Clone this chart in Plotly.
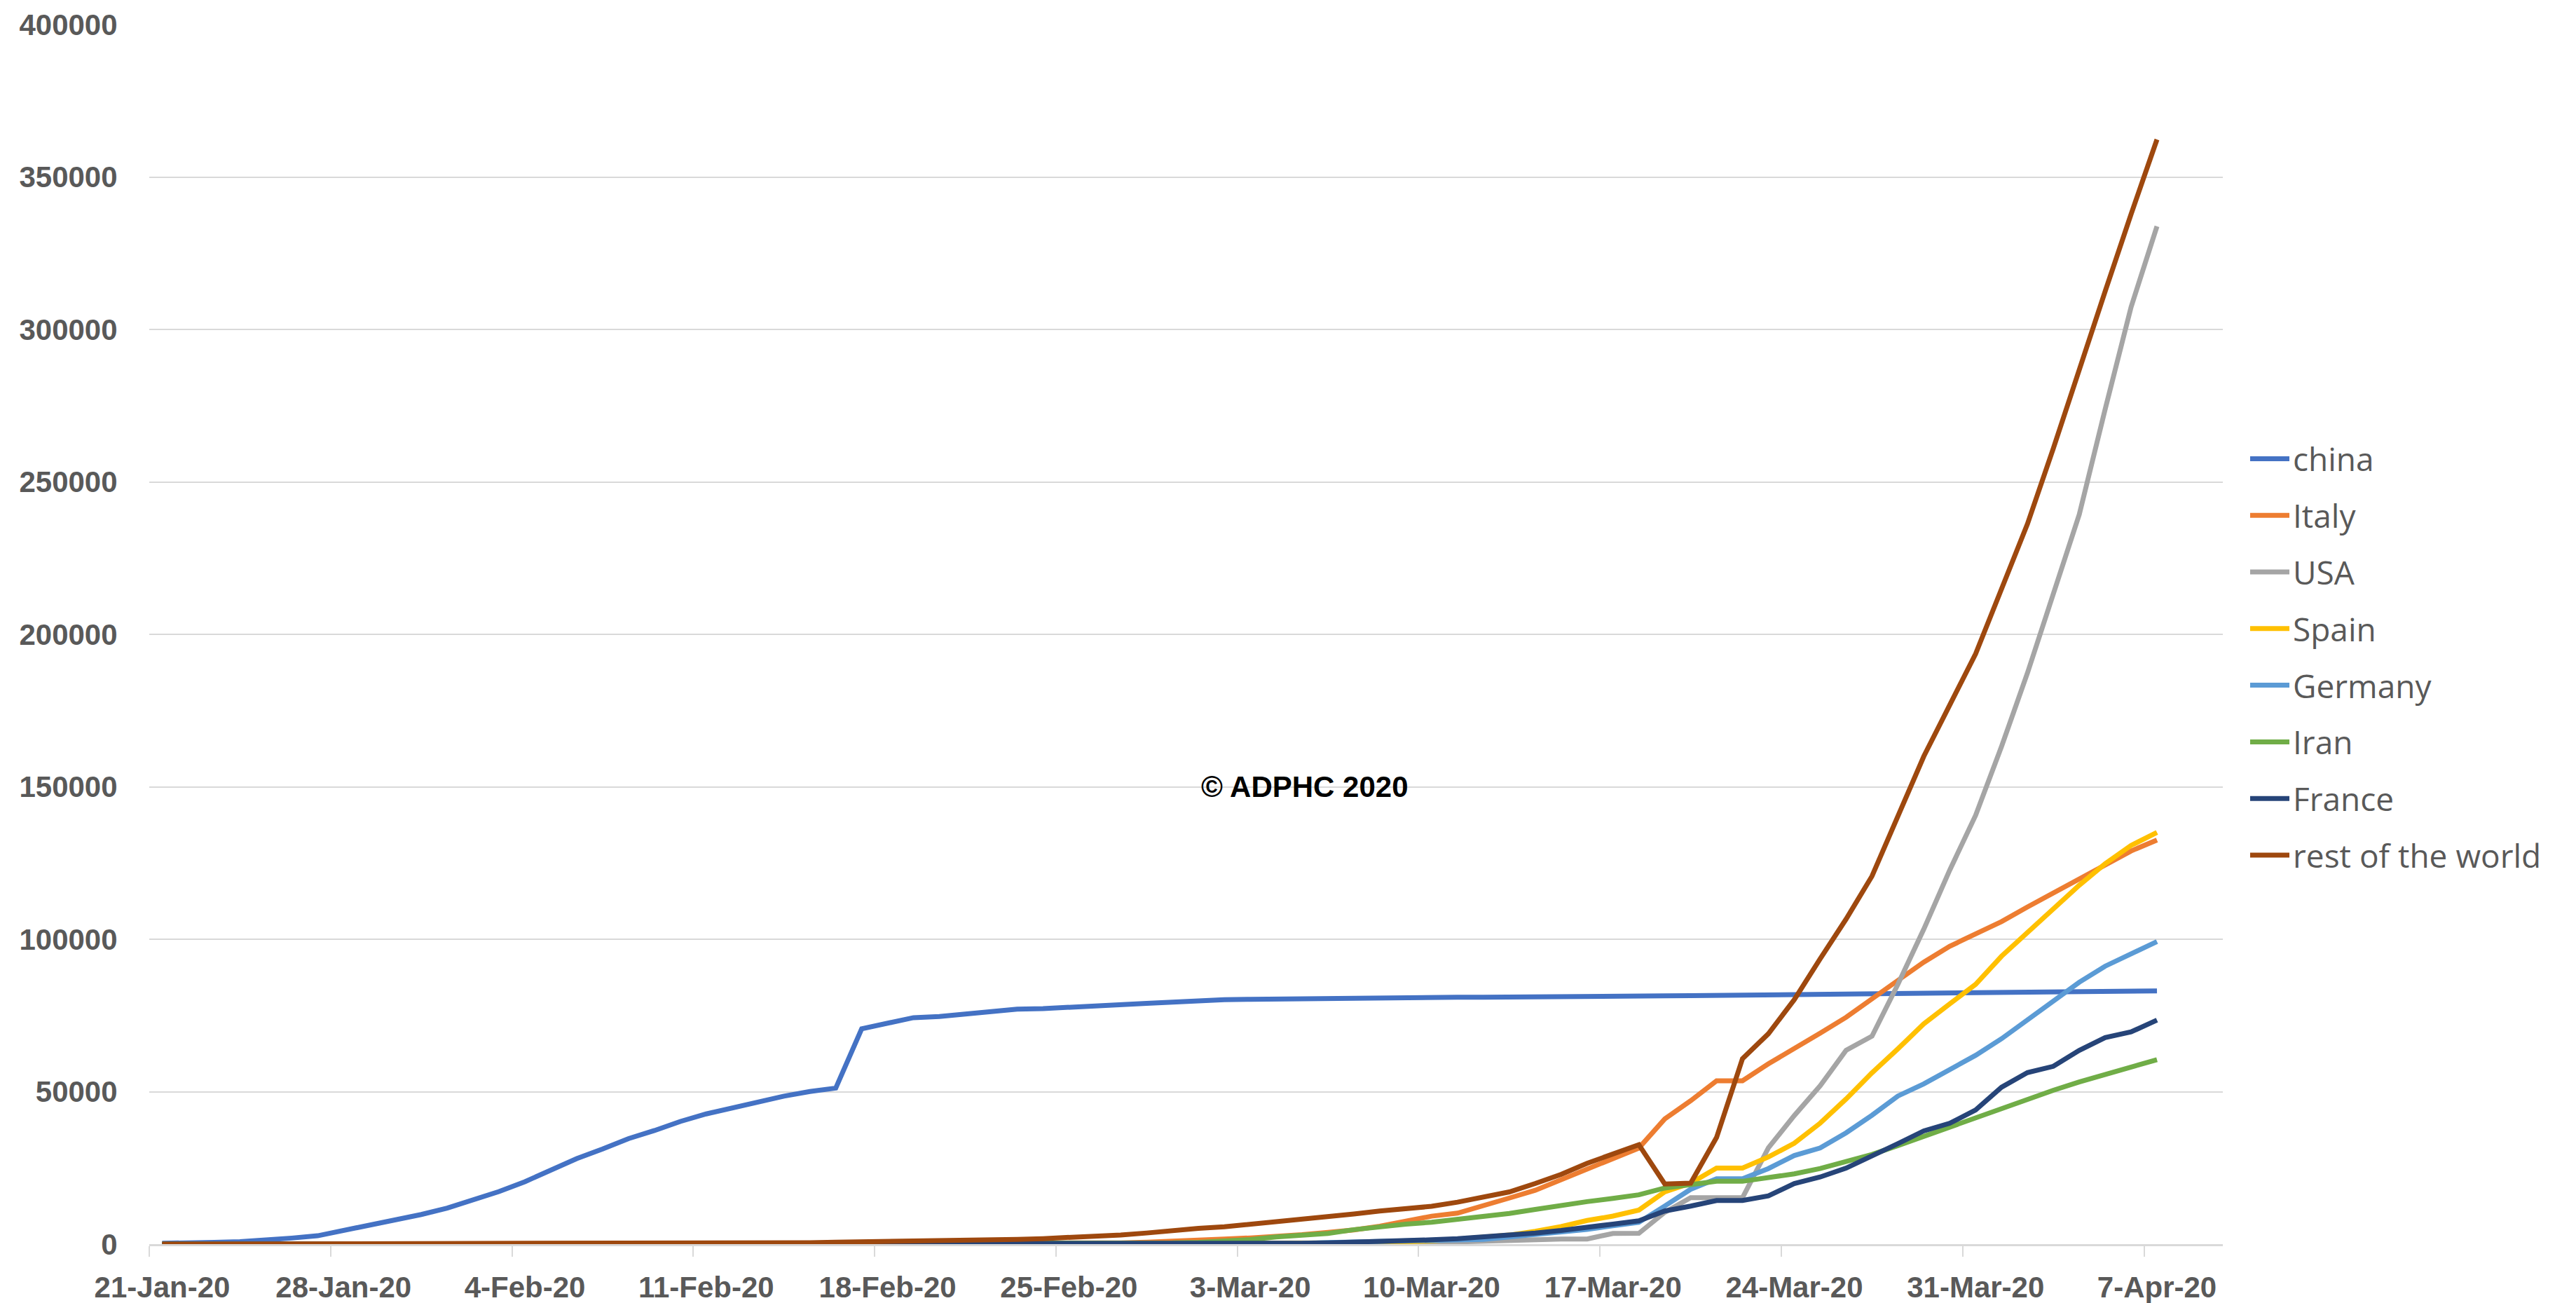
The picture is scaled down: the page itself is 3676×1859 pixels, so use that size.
import pandas as pd
import plotly.graph_objects as go

# ---- categories (daily dates) ----
dates = pd.date_range("2020-01-21", "2020-04-07", freq="D")

# ---- series values (cumulative confirmed cases) ----
china = [278, 309, 571, 830, 1297, 1985, 2741, 4537, 5997, 7736,
         9720, 11821, 14411, 17238, 20471, 24363, 28060, 31211, 34598, 37251,
         40235, 42708, 44730, 46550, 48548, 50054, 51174, 70635, 72528, 74280,
         74675, 75569, 76392, 77042, 77262, 77780, 78191, 78630, 78961, 79394,
         79968, 80174, 80304, 80422, 80565, 80711, 80813, 80859, 80904, 80924,
         80955, 80981, 80991, 81021, 81048, 81077, 81116, 81174, 81416, 81498,
         81603, 81603, 81601, 81747, 81848, 81961, 82078, 82230, 82341, 82447,
         82545, 82631, 82724, 82802, 82875, 82930, 83005, 83071]

italy = [0, 0, 0, 0, 0, 0, 0, 0, 0, 0,
         2, 2, 2, 2, 2, 2, 2, 3, 3, 3,
         3, 3, 3, 3, 3, 3, 3, 3, 3, 3,
         3, 3, 9, 76, 124, 229, 322, 400, 650, 888,
         1128, 1689, 2036, 2502, 3089, 3858, 4636, 5883, 7375, 9172,
         10149, 12462, 15113, 17660, 21157, 24747, 27980, 31506, 41035, 47021,
         53578, 53578, 59138, 63927, 69176, 74386, 80589, 86498, 92472, 97689,
         101739, 105792, 110574, 115242, 119827, 124632, 128948, 132547]

usa = [0, 0, 1, 1, 2, 2, 5, 5, 5, 5,
       6, 7, 8, 11, 11, 11, 12, 12, 12, 12,
       12, 12, 12, 15, 15, 15, 15, 15, 15, 15,
       15, 35, 35, 35, 35, 53, 59, 59, 60, 62,
       62, 62, 64, 108, 129, 148, 213, 213, 213, 472,
       696, 987, 1264, 1678, 1678, 1678, 3503, 3536, 10442, 15219,
       15219, 15219, 31573, 42164, 51914, 63570, 68211, 85228, 103321, 122653,
       140640, 163199, 187302, 213144, 239279, 273808, 307318, 333811]

spain = [0, 0, 0, 0, 0, 0, 0, 0, 0, 0,
         0, 1, 1, 1, 1, 1, 1, 1, 1, 1,
         2, 2, 2, 2, 2, 2, 2, 2, 2, 2,
         2, 2, 2, 2, 2, 2, 2, 12, 23, 32,
         45, 114, 114, 151, 198, 257, 374, 430, 589, 1024,
         1639, 2140, 2965, 4231, 5753, 7753, 9191, 11178, 17147, 19980,
         24926, 24926, 28572, 33089, 39673, 47610, 56188, 64059, 72248, 78797,
         85195, 94417, 102136, 110238, 117710, 124736, 130759, 135032]

germany = [0, 0, 0, 0, 0, 0, 0, 1, 4, 4,
           5, 7, 10, 10, 12, 12, 12, 13, 14, 14,
           14, 16, 16, 16, 16, 16, 16, 16, 16, 16,
           16, 16, 16, 16, 16, 16, 16, 21, 26, 57,
           57, 129, 157, 196, 262, 534, 639, 795, 1112, 1139,
           1296, 1567, 2369, 3062, 3795, 4838, 6012, 7156, 12500, 18000,
           21463, 21463, 24774, 29056, 31554, 36508, 42288, 48582, 52547, 57298,
           61913, 67366, 73522, 79696, 85903, 91159, 95391, 99225]

iran = [0, 0, 0, 0, 0, 0, 0, 0, 0, 0,
        0, 0, 0, 0, 0, 0, 0, 0, 0, 0,
        0, 0, 0, 0, 0, 0, 0, 0, 0, 0,
        2, 5, 18, 28, 43, 61, 95, 141, 245, 388,
        593, 978, 1501, 2336, 2922, 3513, 4747, 5823, 6566, 7161,
        8042, 9000, 10075, 11364, 12729, 13938, 14991, 16169, 18407, 19644,
        20610, 20610, 21638, 23049, 24811, 27017, 29406, 32332, 35408, 38309,
        41495, 44605, 47593, 50468, 53183, 55743, 58226, 60500]

france = [0, 0, 0, 0, 3, 3, 3, 4, 4, 5,
          5, 6, 6, 6, 6, 6, 6, 6, 6, 11,
          11, 11, 11, 11, 11, 11, 12, 12, 12, 12,
          12, 12, 12, 12, 12, 12, 14, 18, 38, 57,
          100, 130, 191, 212, 282, 420, 613, 706, 1126, 1412,
          1774, 2269, 2860, 3640, 4469, 5380, 6573, 7652, 10871, 12475,
          14296, 14296, 15821, 19856, 22025, 24920, 29155, 32964, 37145, 39642,
          43977, 51477, 56261, 58327, 63536, 67757, 69607, 73488]

rest_of_world = [4, 6, 9, 14, 18, 24, 29, 47, 55, 68,
                 88, 112, 122, 125, 128, 158, 182, 232, 248, 256,
                 268, 337, 381, 385, 440, 460, 616, 727, 737, 857,
                 1000, 1103, 1288, 1553, 1808, 2086, 2410, 3013, 3649, 4525,
                 5184, 5672, 6503, 7163, 7886, 8751, 9888, 10877, 11693, 12398,
                 13768, 15642, 17121, 19883, 22888, 26500, 29745, 32600, 19700, 20000,
                 35000, 60800, 69000, 80200, 93600, 106600, 120700, 140000, 160000, 176800,
                 193600, 214900, 236200, 261000, 287100, 312500, 337800, 362300]

series_names = ["china", "Italy", "USA", "Spain", "Germany", "Iran", "France",
                "rest of the world"]
series_values = [china, italy, usa, spain, germany, iran, france, rest_of_world]
series_colors = ["#4472C4", "#ED7D31", "#A5A5A5", "#FFC000", "#5B9BD5",
                 "#70AD47", "#264478", "#9E480E"]

# ---- tick labels ----
x_tick_dates = ["2020-01-21", "2020-01-28", "2020-02-04", "2020-02-11",
                "2020-02-18", "2020-02-25", "2020-03-03", "2020-03-10",
                "2020-03-17", "2020-03-24", "2020-03-31", "2020-04-07"]
x_tick_labels = ["21-Jan-20", "28-Jan-20", "4-Feb-20", "11-Feb-20",
                 "18-Feb-20", "25-Feb-20", "3-Mar-20", "10-Mar-20",
                 "17-Mar-20", "24-Mar-20", "31-Mar-20", "7-Apr-20"]
y_tick_values = [0, 50000, 100000, 150000, 200000, 250000, 300000, 350000, 400000]
y_tick_labels = ["0", "50000", "100000", "150000", "200000", "250000",
                 "300000", "350000", "400000"]

# tick marks sit between categories (half a day before each labelled date)
minor_ticks = [(pd.Timestamp(d) - pd.Timedelta(hours=12)).strftime("%Y-%m-%d %H:%M")
               for d in x_tick_dates]

LABEL_FONT = dict(family="Liberation Sans, Arial, sans-serif", size=42,
                  color="#595959", weight="bold")

fig = go.Figure()
for name, vals, col in zip(series_names, series_values, series_colors):
    fig.add_trace(go.Scatter(
        x=dates, y=vals, mode="lines", name=name, legendgroup=name,
        line=dict(color=col, width=7),
    ))

fig.add_annotation(
    text="© ADPHC 2020", xref="paper", yref="y",
    x=(1862 - 213) / 2959, y=150000, showarrow=False,
    xanchor="center", yanchor="middle",
    font=dict(family="Liberation Sans, Arial, sans-serif", size=42,
              color="black", weight="bold"),
)

fig.update_layout(
    width=3676, height=1859,
    margin=dict(l=213, r=504, t=35, b=84, autoexpand=False),
    paper_bgcolor="white", plot_bgcolor="white",
    showlegend=True,
    legend=dict(
        xref="container", yref="container",
        x=3206 / 3676, xanchor="left",
        y=1 - 618 / 1859, yanchor="top",
        font=dict(family="Open Sans, sans-serif", size=46, color="#595959"),
        itemwidth=56, tracegroupgap=18, bgcolor="rgba(0,0,0,0)",
    ),
    xaxis=dict(
        type="date",
        range=["2020-01-20 12:00", "2020-04-09 13:00"],
        tickmode="array", tickvals=x_tick_dates, ticktext=x_tick_labels,
        ticks="outside", ticklen=23, tickcolor="rgba(0,0,0,0)",
        tickfont=LABEL_FONT,
        showgrid=False, zeroline=False,
        showline=True, linecolor="#d9d9d9", linewidth=3,
        minor=dict(tickmode="array", tickvals=minor_ticks, ticks="outside",
                   ticklen=15, tickwidth=2, tickcolor="#d9d9d9",
                   showgrid=False),
    ),
    yaxis=dict(
        range=[0, 400000],
        tickmode="array", tickvals=y_tick_values, ticktext=y_tick_labels,
        ticks="outside", ticklen=36, tickcolor="rgba(0,0,0,0)",
        tickfont=LABEL_FONT,
        showgrid=True, gridcolor="#d9d9d9", gridwidth=2,
        zeroline=False, showline=False,
    ),
)

fig.write_html(
    "out.html",
    config={"displayModeBar": False},
    post_script="document.body.style.margin='0';document.body.style.overflow='hidden';",
)
